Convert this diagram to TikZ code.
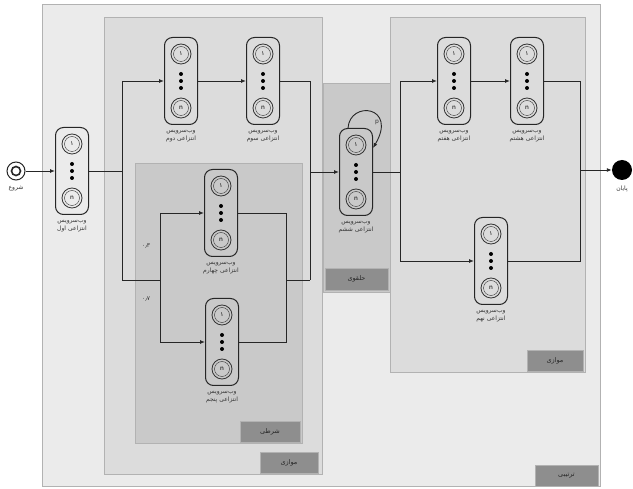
\documentclass[tikz,border=0pt]{standalone}
\usepackage{fontspec}
\usetikzlibrary{arrows.meta}
\newfontfamily\persianfont[Script=Arabic]{DejaVu Sans}
\TeXXeTstate=1
\definecolor{seqfill}{HTML}{EBEBEB}
\definecolor{parfill}{HTML}{DCDCDC}
\definecolor{condfill}{HTML}{C9C9C9}
\definecolor{tagfill}{HTML}{8E8E8E}
\tikzset{
  grp/.style={draw=gray!60, line width=0.4pt},
  tagbox/.style={fill=tagfill, draw=gray!60, line width=0.4pt},
  tagtext/.style={font=\persianfont\fontsize{6.5}{7}\selectfont, text=black!85},
  wsbox/.style={draw=black!85, line width=1pt, rounded corners=8pt, minimum width=33pt, minimum height=87pt, inner sep=0pt},
  wscirc/.style={circle, draw=black!80, line width=0.8pt, minimum size=20pt, inner sep=0pt, font=\persianfont\fontsize{6}{6}\selectfont},
  lbl/.style={align=center, font=\persianfont\fontsize{6}{8}\selectfont, text=black!80},
  conn/.style={draw=black!85, line width=0.9pt},
  arr/.style={conn, -{Latex[length=5pt,width=4pt]}},
}
\newcommand{\wsnode}[4]{%
  \node[wsbox] (#1) at (#2,#3) {};
  \node[wscirc] (#1-a) at ([yshift=27pt]#1.center) {۱};
  \draw[black!80, line width=0.4pt] (#1-a.center) circle (7.5pt);
  \node[wscirc] (#1-b) at ([yshift=-27pt]#1.center) {n};
  \draw[black!80, line width=0.4pt] (#1-b.center) circle (7.5pt);
  \fill[black] ([yshift=7pt]#1.center) circle (2pt) (#1.center) circle (2pt) ([yshift=-7pt]#1.center) circle (2pt);
  \node[lbl, anchor=north] (#1-l) at ([yshift=-2pt]#1.south) {#4};
}
\begin{document}
\begin{tikzpicture}[x=1pt, y=-1pt]
\useasboundingbox (0,0) rectangle (633,489);
\fill[white] (0,0) rectangle (633,489);
% groups
\filldraw[grp, fill=seqfill] (42,4) rectangle (600,486);
\filldraw[grp, fill=parfill] (104,17) rectangle (322,474);
\filldraw[grp, fill=condfill] (135,163) rectangle (302,443);
\filldraw[grp, fill=condfill] (323,83) rectangle (390,292);
\filldraw[grp, fill=parfill] (390,17) rectangle (585,372);
% tags
\filldraw[tagbox] (535,465) rectangle (598,486);
\node[tagtext] (t1) at (566.5,475.5) {\beginR ترتیبی\endR};
\filldraw[tagbox] (260,452) rectangle (318,473);
\node[tagtext] (t2) at (289,462.5) {\beginR موازی\endR};
\filldraw[tagbox] (240,421) rectangle (300,442);
\node[tagtext] (t3) at (270,431.5) {\beginR شرطی\endR};
\filldraw[tagbox] (325,268) rectangle (388,290);
\node[tagtext] (t4) at (356.5,279) {\beginR حلقوی\endR};
\filldraw[tagbox] (527,350) rectangle (583,371);
\node[tagtext] (t5) at (555,360.5) {\beginR موازی\endR};
% start / end
\node[circle, draw=black!85, line width=1pt, minimum size=18pt, inner sep=0pt] (start) at (16,171) {};
\draw[black!85, line width=1.6pt] (start.center) circle (4.5pt);
\node[lbl, anchor=north] (startl) at ([yshift=-2pt]start.south) {\beginR شروع\endR};
\node[circle, fill=black, minimum size=20pt, inner sep=0pt] (end) at (622,170) {};
\node[lbl, anchor=north] (endl) at ([yshift=-2pt]end.south) {\beginR پایان\endR};
% web services
\wsnode{w1}{72}{171}{\beginR وب‌سرویس\endR\\\beginR انتزاعی اول\endR}
\wsnode{w2}{181}{81}{\beginR وب‌سرویس\endR\\\beginR انتزاعی دوم\endR}
\wsnode{w3}{263}{81}{\beginR وب‌سرویس\endR\\\beginR انتزاعی سوم\endR}
\wsnode{w4}{221}{213}{\beginR وب‌سرویس\endR\\\beginR انتزاعی چهارم\endR}
\wsnode{w5}{222}{342}{\beginR وب‌سرویس\endR\\\beginR انتزاعی پنجم\endR}
\wsnode{w6}{356}{172}{\beginR وب‌سرویس\endR\\\beginR انتزاعی ششم\endR}
\wsnode{w7}{454}{81}{\beginR وب‌سرویس\endR\\\beginR انتزاعی هفتم\endR}
\wsnode{w8}{527}{81}{\beginR وب‌سرویس\endR\\\beginR انتزاعی هشتم\endR}
\wsnode{w9}{491}{261}{\beginR وب‌سرویس\endR\\\beginR انتزاعی نهم\endR}
% coordinates
\coordinate (s1) at (122,171);
\coordinate (s2) at (160,280);
\coordinate (m1) at (286,280);
\coordinate (m2) at (310,172);
\coordinate (s3) at (400,172);
\coordinate (m3) at (580,170);
% connectors
\draw[arr] (start) -- (w1);
\draw[conn] (w1.east) -- (s1);
\draw[arr] (s1 |- 0,81) -- (w2.west |- 0,81);
\draw[conn] (s1 |- 0,81) -- (s1 |- s2);
\draw[conn] (s1 |- s2) -- (s2);
\draw[conn] (s2 |- w4) -- (s2 |- w5);
\draw[arr] (s2 |- w4) -- (w4.west);
\draw[arr] (s2 |- w5) -- (w5.west);
\draw[conn] (w4.east) -- (m1 |- w4) -- (m1 |- w5) -- (w5.east);
\draw[conn] (m1) -- (m2 |- m1);
\draw[arr] (w2.east) -- (w3.west);
\draw[conn] (w3.east) -- (m2 |- w3) -- (m2 |- m1);
\draw[arr] (m2) -- (m2 -| w6.west);
\draw[arr] ([xshift=-8pt]w6.north) .. controls (350,100) and (398,106) .. ([yshift=24pt]w6.east);
\node[lbl] (loopl) at (377,122) {p};
\draw[conn] (m2 -| w6.east) -- (s3);
\draw[conn] (s3 |- w7) -- (s3 |- w9);
\draw[arr] (s3 |- w7) -- (w7.west);
\draw[arr] (s3 |- w9) -- (w9.west);
\draw[arr] (w7.east) -- (w8.west);
\draw[conn] (w8.east) -- (m3 |- w8) -- (m3 |- w9) -- (w9.east);
\draw[arr] (m3) -- (end);
\node[lbl] (p1) at (146,246) {\beginR ۰٫۳\endR};
\node[lbl] (p2) at (146,299) {\beginR ۰٫۷\endR};
\end{tikzpicture}
\end{document}
